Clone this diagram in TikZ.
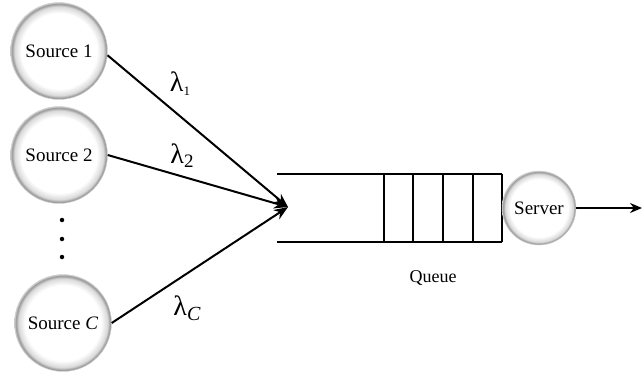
\documentclass[tikz,border=0pt]{standalone}
\usepackage{fontspec}
\setmainfont{Liberation Serif}
\usetikzlibrary{arrows.meta}
\pgfdeclareradialshading{rim}{\pgfpoint{0bp}{0bp}}{color(0bp)=(white);color(19.5bp)=(white);color(23bp)=(black!15);color(24.3bp)=(black!42);color(25bp)=(black!20);color(50bp)=(black!20)}
\tikzset{
  src/.style={circle,shading=rim,draw=black!20,line width=0.4pt,minimum size=97pt,inner sep=0pt,font=\fontsize{19}{22}\selectfont},
  srv/.style={src,minimum size=74pt},
  conn/.style={line width=2pt,-{Stealth[length=14pt,width=11pt]}},
  qline/.style={line width=2pt},
  lab/.style={font=\fontsize{28}{32}\selectfont,inner sep=0pt},
  dotst/.style={circle,fill=black,inner sep=0pt,minimum size=4.5pt}
}
\begin{document}
\begin{tikzpicture}[x=1pt,y=-1pt]
\useasboundingbox (0,0) rectangle (642,375);
\node[src] (s1) at (59,51) {Source 1};
\node[src] (s2) at (59,155) {Source 2};
\node[src] (sc) at (63,323) {Source \textit{C}};
\node[dotst] (d1) at (62,220) {};
\node[dotst] (d2) at (62,239) {};
\node[dotst] (d3) at (62,257) {};
\coordinate (tip) at (288,207);
\coordinate (ql) at (277,174);
\coordinate (qlb) at (277,242);
\coordinate (qr) at (502,174);
\coordinate (qrb) at (502,242);
\draw[conn] (s1.-5) -- (tip);
\draw[conn] (s2.0) -- (tip);
\draw[conn] (sc.0) -- (tip);
\draw[qline] (ql) -- (qr);
\draw[qline] (qlb) -- (qrb);
\foreach \x in {384,413,443,473,502} \draw[qline] (\x,174) -- (\x,242);
\node[srv] (srv) at (539,208) {Server};
\coordinate (out) at (642,208);
\draw[conn,-{Stealth[length=12pt,width=10pt]}] (srv) -- (out);
\node[font=\fontsize{18}{21}\selectfont] (q) at (433,278) {Queue};
\node[lab] (l1) at (180,84) {λ\raisebox{-0.3ex}{\fontsize{13}{15}\selectfont 1}};
\node[lab] (l2) at (182,156) {λ\raisebox{-0.3ex}{\fontsize{19}{20}\selectfont 2}};
\node[lab] (lc) at (187,308) {λ\raisebox{-0.4ex}{\fontsize{20}{20}\selectfont\textit{C}}};
\end{tikzpicture}
\end{document}
